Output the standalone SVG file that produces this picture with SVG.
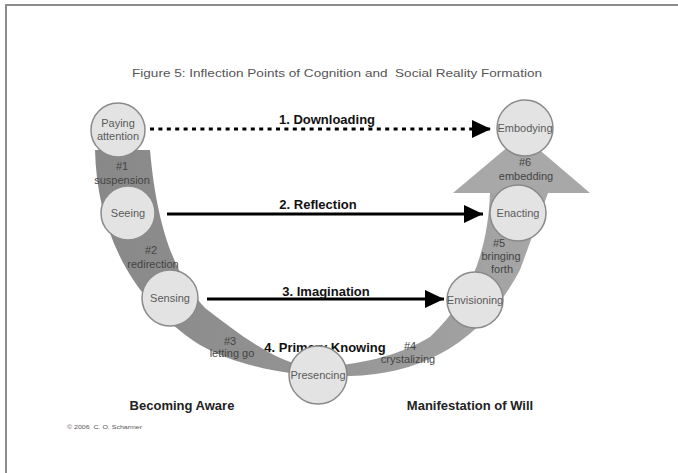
<svg xmlns="http://www.w3.org/2000/svg" width="678" height="473" viewBox="0 0 678 473">
<defs>
<style>
.node circle{fill:#e3e3e3;stroke:#8a8a8a;stroke-width:1.5}
.node text{font-family:"Liberation Sans",Arial,sans-serif;font-size:11px;fill:#5a5a5a;text-anchor:middle}
.lbl{font-family:"Liberation Sans",Arial,sans-serif;font-size:11px;fill:#444;text-anchor:middle}
.conn{font-family:"Liberation Sans",Arial,sans-serif;font-size:13px;font-weight:bold;fill:#111;text-anchor:middle}
.big{font-family:"Liberation Sans",Arial,sans-serif;font-size:13px;font-weight:bold;fill:#222;text-anchor:middle}
.arrow{stroke:#000;stroke-width:3;fill:none}
</style>
<linearGradient id="band" x1="0" y1="0" x2="1" y2="0">
<stop offset="0" stop-color="#888"/>
<stop offset="0.5" stop-color="#949494"/>
<stop offset="1" stop-color="#a8a8a8"/>
</linearGradient>
<marker id="ah" markerUnits="userSpaceOnUse" markerWidth="20" markerHeight="18" refX="19" refY="9" orient="auto">
<path d="M0,0 L19,9 L0,18 Z" fill="#000"/>
</marker>
</defs>
<rect width="678" height="473" fill="#fff"/>
<path d="M6,473 V5 H678" fill="none" stroke="#8c8c8c" stroke-width="2"/>
<text xml:space="preserve" x="337" y="77" font-family="'Liberation Sans',Arial,sans-serif" font-size="11" fill="#555" text-anchor="middle" textLength="410" lengthAdjust="spacingAndGlyphs">Figure 5: Inflection Points of Cognition and  Social Reality Formation</text>
<g id="band-shape">
<path d="M95,150 C97,230 130,300 200,345 C240,368 300,378 350,376 C420,374 480,345 520,270 L548,193 L490,193 C488,250 470,300 430,337 C400,355 360,366 310,367 C275,362 240,335 205,308 C180,280 158,240 150,150 Z" fill="url(#band)"/>
<path d="M453,193 L590,193 L522,135 Z" fill="#a8a8a8"/>
</g>
<g id="band-labels">
<text class="lbl" x="122" y="170">#1</text>
<text class="lbl" x="122" y="184">suspension</text>
<text class="lbl" x="151" y="254">#2</text>
<text class="lbl" x="153" y="268">redirection</text>
<text class="lbl" x="230" y="345">#3</text>
<text class="lbl" x="232" y="357">letting go</text>
<text class="lbl" x="410" y="350">#4</text>
<text class="lbl" x="408" y="363">crystalizing</text>
<text class="lbl" x="499" y="247">#5</text>
<text class="lbl" x="501" y="260">bringing</text>
<text class="lbl" x="502" y="273">forth</text>
<text class="lbl" x="525" y="166">#6</text>
<text class="lbl" x="526" y="180">embedding</text>
</g>
<g id="connectors">
<line class="arrow" x1="150" y1="129" x2="491" y2="129" stroke-width="4" stroke-dasharray="4 4.4" marker-end="url(#ah)"/>
<line class="arrow" x1="167" y1="214" x2="483" y2="214" marker-end="url(#ah)"/>
<line class="arrow" x1="207" y1="299" x2="444" y2="299" marker-end="url(#ah)"/>
<text class="conn" x="327" y="124">1. Downloading</text>
<text class="conn" x="318" y="209">2. Reflection</text>
<text class="conn" x="326" y="296">3. Imagination</text>
<text class="conn" x="325" y="352">4. Primary Knowing</text>
</g>
<g id="paying-attention" class="node"><circle cx="118" cy="130" r="27"/><text x="118" y="127">Paying</text><text x="118" y="140">attention</text></g>
<g id="seeing" class="node"><circle cx="128" cy="213" r="27"/><text x="128" y="217">Seeing</text></g>
<g id="sensing" class="node"><circle cx="170" cy="298" r="28"/><text x="170" y="302">Sensing</text></g>
<g id="presencing" class="node"><circle cx="318" cy="375" r="29"/><text x="318" y="379">Presencing</text></g>
<g id="envisioning" class="node"><circle cx="475" cy="300" r="28"/><text x="475" y="304">Envisioning</text></g>
<g id="enacting" class="node"><circle cx="518" cy="213" r="28"/><text x="518" y="217">Enacting</text></g>
<g id="embodying" class="node"><circle cx="525" cy="128" r="28"/><text x="525" y="132">Embodying</text></g>
<text class="big" x="182" y="410">Becoming Aware</text>
<text class="big" x="470" y="410">Manifestation of Will</text>
<text xml:space="preserve" x="67" y="429" font-family="'Liberation Sans',Arial,sans-serif" font-size="6" fill="#555" textLength="75" lengthAdjust="spacingAndGlyphs">© 2006  C. O. Scharmer</text>
</svg>
